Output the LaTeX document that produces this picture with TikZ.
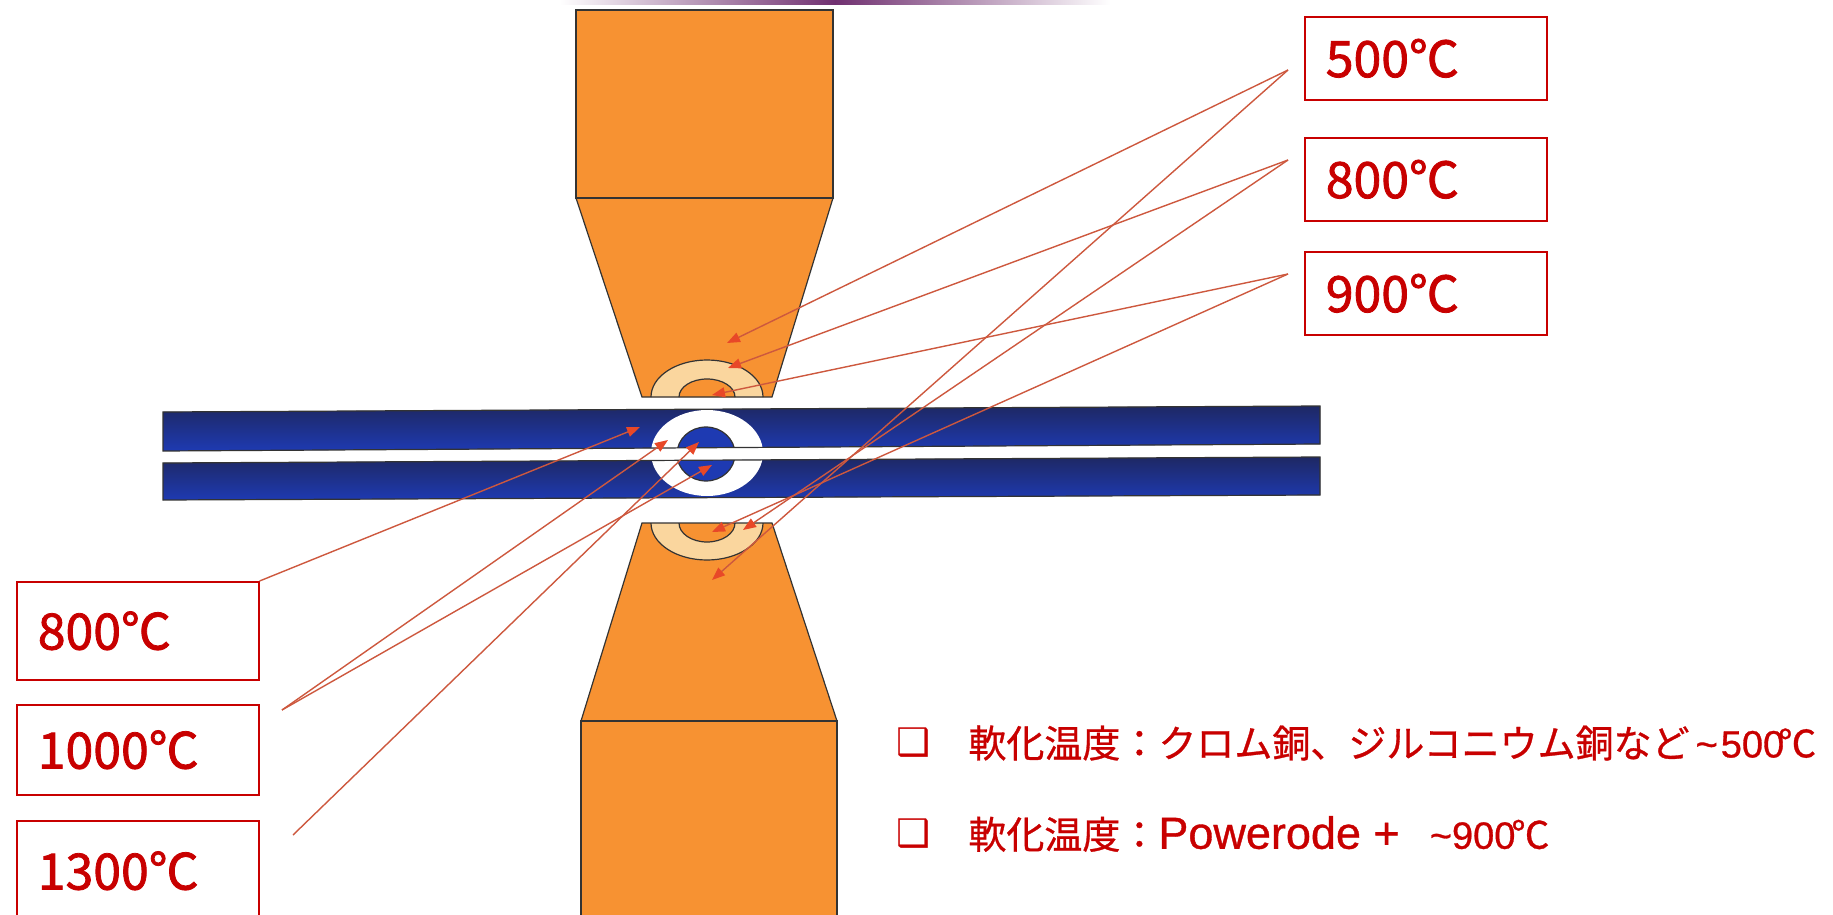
\documentclass[tikz,border=0pt]{standalone}
\usepackage{fontspec}
\setmainfont{Noto Sans CJK JP}
\newfontfamily\labelfont[FakeBold=1.6]{Noto Sans CJK JP}
\newfontfamily\notefont[FakeBold=0.8]{Noto Sans CJK JP}
\newfontfamily\latinfont[FakeBold=0.8]{Liberation Sans}
\newfontfamily\dingfont{DejaVu Sans}
\usetikzlibrary{arrows.meta}

\definecolor{copper}{RGB}{247,146,50}
\definecolor{warmzone}{RGB}{250,214,158}
\definecolor{sheetblue}{RGB}{30,58,178}
\definecolor{sheetdark}{RGB}{30,40,100}
\definecolor{tempred}{RGB}{200,0,0}
\definecolor{leadred}{RGB}{205,88,62}
\definecolor{tipred}{RGB}{232,72,40}
\definecolor{barpurple}{RGB}{112,48,112}

\begin{document}
\begin{tikzpicture}
    [x=0.5pt, y=-0.5pt,
    electrode/.style={draw=black!80, line width=0.6pt},
    sheet/.style={top color=sheetdark, middle color=sheetblue, bottom color=sheetblue},
    tempbox/.style={draw=tempred, line width=0.8pt, text=tempred,
        font=\labelfont\fontsize{25}{30}\selectfont, text width=100pt,
        inner xsep=10.5pt, align=left, anchor=north west},
    leader/.style={draw=leadred, line width=0.7pt,
        -{Triangle[length=6.5pt, width=5pt, color=tipred]}},
    note/.style={text=tempred, font=\notefont\fontsize{19}{22}\selectfont,
        anchor=west, inner sep=0pt},
    tick/.style={text=tempred, font=\dingfont\fontsize{19}{22}\selectfont,
        anchor=west, inner sep=0pt}
    ]
    \useasboundingbox (0,0) rectangle (1833,915);
    \clip (0,0) rectangle (1833,915);

    \fill[left color=white, right color=white, middle color=barpurple]
        (560,0) rectangle (1110,5);

    % upper electrode
    \fill[copper] (576,10) rectangle (833,198);
    \fill[copper] (576,198) -- (833,198) -- (772,397) -- (642,397) -- cycle;
    \begin{scope}
        \clip (576,198) -- (833,198) -- (772,397) -- (642,397) -- cycle;
        \draw[electrode, fill=warmzone] (707,397) ellipse [x radius=56, y radius=37];
        \draw[electrode, fill=copper] (707,397) ellipse [x radius=28, y radius=18];
    \end{scope}
    \draw[electrode] (576,10) rectangle (833,198);
    \draw[electrode] (576,198) -- (833,198) -- (772,397) -- (642,397) -- cycle;

    % lower electrode
    \fill[copper] (581,721) rectangle (837,930);
    \fill[copper] (642,523) -- (772,523) -- (837,721) -- (581,721) -- cycle;
    \begin{scope}
        \clip (642,523) -- (772,523) -- (837,721) -- (581,721) -- cycle;
        \draw[electrode, fill=warmzone] (707,523) ellipse [x radius=56, y radius=37];
        \draw[electrode, fill=copper] (707,523) ellipse [x radius=28, y radius=19];
    \end{scope}
    \draw[electrode] (581,721) rectangle (837,930);
    \draw[electrode] (642,523) -- (772,523) -- (837,721) -- (581,721) -- cycle;

    % sheets and nugget
    \fill[sheet] (163,412) -- (1320,406) -- (1320,444) -- (163,451) -- cycle;
    \fill[sheet] (163,463) -- (1320,457) -- (1320,495) -- (163,500) -- cycle;
    \begin{scope}
        \clip (163,412) -- (1320,406) -- (1320,444) -- (163,451) -- cycle
              (163,463) -- (1320,457) -- (1320,495) -- (163,500) -- cycle;
        \fill[white] (707,453) ellipse [x radius=56, y radius=43];
        \draw[electrode, fill=sheetblue] (706,454) ellipse [x radius=29, y radius=27];
    \end{scope}
    \draw[electrode] (163,412) -- (1320,406) -- (1320,444) -- (163,451) -- cycle;
    \draw[electrode] (163,463) -- (1320,457) -- (1320,495) -- (163,500) -- cycle;

    % temperature labels
    \node[tempbox, minimum height=41.5pt] (r500) at (1304,16) {500℃};
    \node[tempbox, minimum height=41.5pt] (r800) at (1304,137) {800℃};
    \node[tempbox, minimum height=41.5pt] (r900) at (1304,251) {900℃};
    \node[tempbox, minimum height=49pt] (l800) at (16,581) {800℃};
    \node[tempbox, minimum height=45pt] (l1000) at (16,704) {1000℃};
    \node[tempbox, minimum height=50pt] (l1300) at (16,820) {1300℃};

    \coordinate (from500) at (1288,70);
    \coordinate (from800) at (1288,160);
    \coordinate (from900) at (1288,274);
    \coordinate (from1000) at (282,710);
    \coordinate (from1300) at (293,835);

    \coordinate (top body) at (727,343);
    \coordinate (top ring) at (728,368);
    \coordinate (top core) at (712,395);
    \coordinate (low body) at (712,580);
    \coordinate (low ring) at (743,530);
    \coordinate (low core) at (712,532);
    \coordinate (sheet haz) at (640,427);
    \coordinate (nugget rim) at (668,440);
    \coordinate (nugget up) at (699,442);
    \coordinate (nugget low) at (712,465);

    \draw[leader] (from500) -- (top body);
    \draw[leader] (from500) -- (low body);
    \draw[leader] (from800) -- (top ring);
    \draw[leader] (from800) -- (low ring);
    \draw[leader] (from900) -- (top core);
    \draw[leader] (from900) -- (low core);
    \draw[leader] (l800.north east) -- (sheet haz);
    \draw[leader] (from1000) -- (nugget rim);
    \draw[leader] (from1000) -- (nugget low);
    \draw[leader] (from1300) -- (nugget up);

    % softening temperatures
    \node[tick] (tick1) at (896,743) {❑};
    \node[note] (soft1) at (968,743)
        {軟化温度：クロム銅、ジルコニウム銅など\hspace{3pt}{\latinfont\char`\~\hspace{1.5pt}500}\kern-3pt℃};
    \node[tick] (tick2) at (896,834) {❑};
    \node[note] (soft2) at (968,834)
        {軟化温度：{\latinfont\fontsize{22.5}{26}\selectfont Powerode +}\hspace{15pt}{\latinfont\char`\~900}\kern-2pt℃};
\end{tikzpicture}
\end{document}
